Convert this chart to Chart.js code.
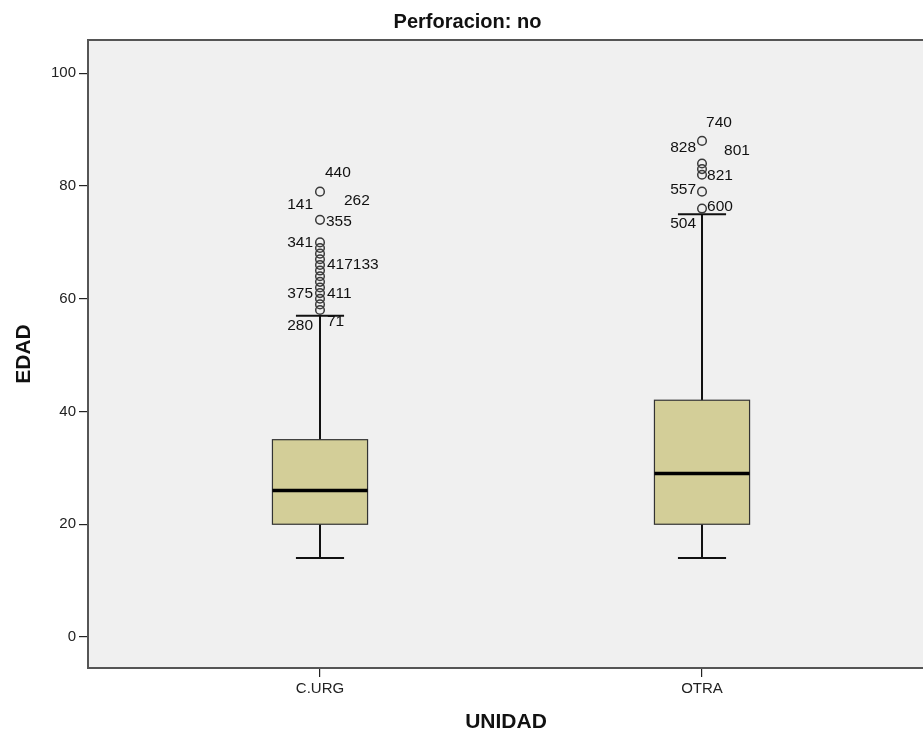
<!DOCTYPE html>
<html>
<head>
<meta charset="utf-8">
<script src="https://cdn.jsdelivr.net/npm/chart.js@4.4.1/dist/chart.umd.min.js"></script>
<style>
  html, body { margin: 0; padding: 0; background: #fff; }
  canvas { display: block; }
</style>
</head>
<body>
<canvas id="chart" width="923" height="733"></canvas>
<script>
// values
const categories = ['C.URG', 'OTRA'];
const yTicks = [0, 20, 40, 60, 80, 100];
const whiskerLow = [14, 14];
const quartile1 = [20, 20];
const medians = [26, 29];
const quartile3 = [35, 42];
const whiskerHigh = [57, 75];
const outliersCurg = [79, 74, 70, 69, 68, 67, 66, 65, 64, 63, 62, 61, 60, 59, 58];
const outliersOtra = [88, 84, 83, 82, 79, 76];
const caseValuesCurg = [79, 74, 74, 74, 70, 66, 61, 61, 58, 58];
const caseLabelsCurg = ['440', '141', '262', '355', '341', '417133', '375', '411', '280', '71'];
const caseValuesOtra = [88, 88, 84, 82, 79, 76, 76];
const caseLabelsOtra = ['740', '828', '801', '821', '557', '600', '504'];

// where each case number sits next to its circle (px offset, alignment)
const labelOffsetsCurg = [[5, -19, 'left'], [-7, -15, 'right'], [24, -19, 'left'], [6, 2, 'left'],
  [-7, 0, 'right'], [7, 0, 'left'], [-7, 1, 'right'], [7, 1, 'left'], [-7, 16, 'right'], [7, 12, 'left']];
const labelOffsetsOtra = [[4, -18, 'left'], [-6, 7, 'right'], [22, -13, 'left'], [5, 1, 'left'],
  [-6, -2, 'right'], [5, -2, 'left'], [-6, 15, 'right']];

const FONT = 'Liberation Sans, Arial, sans-serif';
Chart.defaults.font.family = FONT;

const boxHalf = 0.1245;
const capHalf = 0.063;

const boxPlugin = {
  id: 'boxes',
  beforeDraw(chart) {
    const { ctx, chartArea: a } = chart;
    ctx.save();
    ctx.fillStyle = '#F0F0F0';
    ctx.fillRect(a.left, a.top, a.right - a.left, a.bottom - a.top);
    ctx.restore();
  },
  beforeDatasetsDraw(chart) {
    const { ctx, chartArea: a } = chart;
    const xs = chart.scales.x, ys = chart.scales.y;
    ctx.save();
    // frame
    ctx.strokeStyle = '#555';
    ctx.lineWidth = 2;
    ctx.beginPath();
    ctx.moveTo(a.right + 2, a.top);
    ctx.lineTo(a.left - 1, a.top);
    ctx.lineTo(a.left - 1, a.bottom);
    ctx.lineTo(a.right + 2, a.bottom);
    ctx.stroke();

    categories.forEach((c, i) => {
      const x = xs.getPixelForValue(i);
      const l = xs.getPixelForValue(i - boxHalf), r = xs.getPixelForValue(i + boxHalf);
      const cl = xs.getPixelForValue(i - capHalf), cr = xs.getPixelForValue(i + capHalf);
      const yLo = ys.getPixelForValue(whiskerLow[i]);
      const yQ1 = ys.getPixelForValue(quartile1[i]);
      const yMed = ys.getPixelForValue(medians[i]);
      const yQ3 = ys.getPixelForValue(quartile3[i]);
      const yHi = ys.getPixelForValue(whiskerHigh[i]);

      ctx.strokeStyle = '#111';
      ctx.lineWidth = 2;
      ctx.beginPath();
      ctx.moveTo(x, yQ1); ctx.lineTo(x, yLo);
      ctx.moveTo(x, yQ3); ctx.lineTo(x, yHi);
      ctx.moveTo(cl, yLo); ctx.lineTo(cr, yLo);
      ctx.moveTo(cl, yHi); ctx.lineTo(cr, yHi);
      ctx.stroke();

      ctx.fillStyle = '#D3CE98';
      ctx.fillRect(l, yQ3, r - l, yQ1 - yQ3);
      ctx.strokeStyle = '#333';
      ctx.lineWidth = 1.2;
      ctx.strokeRect(l, yQ3, r - l, yQ1 - yQ3);

      ctx.strokeStyle = '#000';
      ctx.lineWidth = 3.5;
      ctx.beginPath();
      ctx.moveTo(l, yMed); ctx.lineTo(r, yMed);
      ctx.stroke();
    });
    ctx.restore();
  },
  afterDatasetsDraw(chart) {
    const { ctx } = chart;
    const xs = chart.scales.x, ys = chart.scales.y;
    ctx.save();
    ctx.font = '15.5px ' + FONT;
    ctx.fillStyle = '#111';
    ctx.textBaseline = 'middle';
    const draw = (i, values, labels, offsets) => {
      const x = xs.getPixelForValue(i);
      values.forEach((v, k) => {
        const [dx, dy, align] = offsets[k];
        ctx.textAlign = align;
        ctx.fillText(labels[k], x + dx, ys.getPixelForValue(v) + dy);
      });
    };
    draw(0, caseValuesCurg, caseLabelsCurg, labelOffsetsCurg);
    draw(1, caseValuesOtra, caseLabelsOtra, labelOffsetsOtra);
    ctx.restore();
  }
};

const outlierStyle = {
  pointStyle: 'circle',
  pointRadius: 4.3,
  pointHoverRadius: 4.3,
  pointBorderColor: '#3a3a3a',
  pointBackgroundColor: 'rgba(0,0,0,0)',
  pointBorderWidth: 1.5
};

new Chart(document.getElementById('chart'), {
  type: 'scatter',
  data: {
    datasets: [
      Object.assign({ data: outliersCurg.map(v => ({ x: 0, y: v })) }, outlierStyle),
      Object.assign({ data: outliersOtra.map(v => ({ x: 1, y: v })) }, outlierStyle)
    ]
  },
  options: {
    responsive: false,
    animation: false,
    devicePixelRatio: 1,
    events: [],
    layout: { autoPadding: false, padding: { left: 12, right: 0, top: 0, bottom: 0 } },
    plugins: {
      legend: { display: false },
      tooltip: { enabled: false },
      title: {
        display: true,
        text: 'Perforacion: no',
        color: '#111',
        font: { size: 20, weight: 'bold' },
        padding: { top: 10, bottom: 6 }
      }
    },
    scales: {
      x: {
        type: 'linear',
        min: -0.6047,
        max: 1.5785,
        afterFit(s) { s.height = 65; s.paddingLeft = 0; s.paddingRight = 0; },
        afterBuildTicks(s) { s.ticks = categories.map((c, i) => ({ value: i })); },
        ticks: {
          callback: v => categories[v],
          color: '#222',
          font: { size: 15 },
          padding: 3,
          autoSkip: false,
          maxRotation: 0
        },
        grid: { drawOnChartArea: false, drawTicks: true, tickLength: 9, color: '#222', lineWidth: 1.2 },
        border: { display: false },
        title: {
          display: true,
          text: 'UNIDAD',
          color: '#111',
          font: { size: 21, weight: 'bold', lineHeight: 1 },
          padding: 0
        }
      },
      y: {
        min: -5.5,
        max: 105.9,
        afterFit(s) { s.width = 77; s.paddingTop = 0; s.paddingBottom = 0; },
        afterBuildTicks(s) { s.ticks = yTicks.map(v => ({ value: v })); },
        ticks: { color: '#222', font: { size: 15 }, padding: 3 },
        grid: { drawOnChartArea: false, drawTicks: true, tickLength: 10, color: '#222', lineWidth: 1.2 },
        border: { display: false },
        title: {
          display: true,
          text: 'EDAD',
          color: '#111',
          font: { size: 21, weight: 'bold', lineHeight: 1 },
          padding: { top: 1.5, bottom: 0 }
        }
      }
    }
  },
  plugins: [boxPlugin]
});
</script>
</body>
</html>
